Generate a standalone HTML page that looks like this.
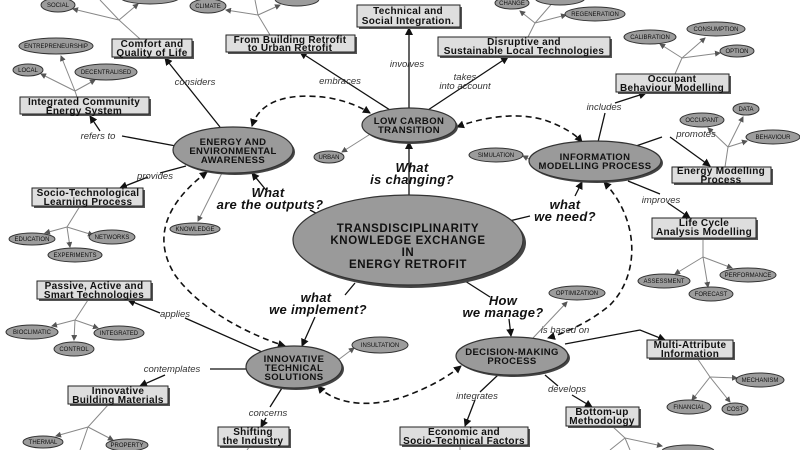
<!DOCTYPE html>
<html><head><meta charset="utf-8"><style>
html,body{margin:0;padding:0;background:#fff;}
svg{display:block;}
.b{fill:#dedede;stroke:#222;stroke-width:1;}
.sh{fill:#555;}
.bt{font:bold 10px "Liberation Sans",sans-serif;fill:#111;text-anchor:middle;letter-spacing:0.3px;}
.se{fill:#9c9c9c;stroke:#333;stroke-width:1;}
.st{font:6px "Liberation Sans",sans-serif;fill:#111;text-anchor:middle;}
.be{fill:#9a9a9a;stroke:#333;stroke-width:1.2;}
.mt{font:bold 9.5px "Liberation Sans",sans-serif;fill:#111;text-anchor:middle;letter-spacing:0.4px;}
.l{stroke:#111;stroke-width:1.3;fill:none;marker-end:url(#a);}
.g{stroke:#888;stroke-width:1;fill:none;marker-end:url(#ga);}
.gn{stroke:#888;stroke-width:1;fill:none;}
.d{stroke:#111;stroke-width:1.6;fill:none;stroke-dasharray:6,4;marker-end:url(#a);marker-start:url(#as);}
.lt{font:italic 9.5px "Liberation Sans",sans-serif;fill:#333;text-anchor:middle;}
.q{font:bold italic 13px "Liberation Sans",sans-serif;fill:#111;text-anchor:middle;letter-spacing:0.3px;}
</style></head><body>
<svg width="800" height="450" viewBox="0 0 800 450" xmlns="http://www.w3.org/2000/svg">
<defs>
<marker id="a" markerWidth="8" markerHeight="8" refX="7" refY="4" orient="auto" markerUnits="userSpaceOnUse"><path d="M0,0 L8,4 L0,8 z" fill="#111"/></marker>
<marker id="as" markerWidth="8" markerHeight="8" refX="1" refY="4" orient="auto" markerUnits="userSpaceOnUse"><path d="M8,0 L0,4 L8,8 z" fill="#111"/></marker>
<marker id="ga" markerWidth="6" markerHeight="6" refX="5" refY="3" orient="auto" markerUnits="userSpaceOnUse"><path d="M0,0 L6,3 L0,6 z" fill="#555"/></marker>
</defs>

<path class="gn" d="M140,39 L119,20 L100,0"/><path class="g" d="M119,20 L73,9"/><path class="g" d="M119,20 L138,4"/>
<path class="gn" d="M270,35 L258,15 L255,0"/><path class="g" d="M258,15 L226,10"/><path class="g" d="M258,15 L280,5"/>
<path class="gn" d="M77,97 L75,91"/><path class="g" d="M75,91 L41,74"/><path class="g" d="M75,91 L61,56"/><path class="g" d="M75,91 L95,80"/>
<path class="gn" d="M528,37 L535,23 L555,0"/><path class="g" d="M535,23 L520,11"/><path class="g" d="M535,23 L566,15"/>
<path class="gn" d="M675,74 L682,58"/><path class="g" d="M682,58 L660,44"/><path class="g" d="M682,58 L705,38"/><path class="g" d="M682,58 L720,53"/>
<path class="gn" d="M725,167 L728,147"/><path class="g" d="M728,147 L708,128"/><path class="g" d="M728,147 L743,117"/><path class="g" d="M728,147 L747,141"/>
<path class="gn" d="M703,238 L703,257"/><path class="g" d="M703,257 L675,274"/><path class="g" d="M703,257 L708,287"/><path class="g" d="M703,257 L732,268"/>
<path class="gn" d="M80,206 L67,227"/><path class="g" d="M67,227 L45,233"/><path class="g" d="M67,227 L93,235"/><path class="g" d="M67,227 L70,247"/>
<path class="gn" d="M88,300 L75,320"/><path class="g" d="M75,320 L52,326"/><path class="g" d="M75,320 L98,328"/><path class="g" d="M75,320 L74,340"/>
<path class="gn" d="M108,405 L88,427 L80,450"/><path class="g" d="M88,427 L56,436"/><path class="g" d="M88,427 L113,440"/>
<path class="gn" d="M697,358 L710,377"/><path class="g" d="M710,377 L737,378"/><path class="g" d="M710,377 L692,400"/><path class="g" d="M710,377 L730,402"/>
<path class="gn" d="M612,426 L625,438 L610,450"/><path class="gn" d="M625,438 L630,450"/><path class="g" d="M625,438 L662,446"/>
<path class="gn" d="M460,445 L460,450"/><path class="gn" d="M250,446 L247,450"/>
<path class="g" d="M222,173 L198,221"/><path class="g" d="M372,133 L342,152"/><path class="g" d="M529,159 L523,156"/>
<path class="g" d="M338,360 L354,348"/><path class="g" d="M533,338 L567,302"/>

<path class="l" d="M220,127 L165,58"/>
<path class="l" d="M176,146 L122,136 M100,131 L90,116"/>
<path class="l" d="M186,166 L160,173 M148,177 L120,188"/>
<path class="l" d="M390,110 L300,52"/>
<path class="l" d="M409,108 L409,28"/>
<path class="l" d="M428,110 L508,57"/>
<path class="l" d="M409,196 L409,142"/>
<path class="l" d="M325,218 L310,210 M266,190 L252,173"/>
<path class="l" d="M505,222 L530,216 M575,196 L582,182"/>
<path class="l" d="M355,283 L345,295 M315,317 L302,346"/>
<path class="l" d="M465,281 L490,297 M509,319 L511,336"/>
<path class="l" d="M598,142 L605,113 M615,103 L646,93"/>
<path class="l" d="M636,146 L662,137 M670,137 L710,166"/>
<path class="l" d="M628,181 L660,194 M668,203 L690,218"/>
<path class="l" d="M262,352 L185,318 M160,313 L128,300"/>
<path class="l" d="M246,369 L210,369 M165,375 L140,386"/>
<path class="l" d="M282,388 L270,407 M266,418 L261,427"/>
<path class="l" d="M565,344 L640,330 L665,340"/>
<path class="l" d="M545,375 L558,386 M572,395 L592,407"/>
<path class="l" d="M498,375 L480,392 M475,400 L465,426"/>

<path class="d" d="M252,126 C260,100 290,92 330,98 C350,102 362,108 370,113"/>
<path class="d" d="M457,127 C480,118 520,110 550,122 C565,128 575,134 582,142"/>
<path class="d" d="M207,172 C170,200 150,235 175,275 C200,310 250,335 285,346"/>
<path class="d" d="M604,182 C640,220 640,275 610,305 C590,322 565,333 548,338"/>
<path class="d" d="M318,386 C330,400 360,410 400,398 C430,388 450,375 461,366"/>

<text class="lt" x="195" y="85">considers</text>
<text class="lt" x="98" y="139">refers to</text>
<text class="lt" x="155" y="179">provides</text>
<text class="lt" x="340" y="84">embraces</text>
<text class="lt" x="407" y="67">involves</text>
<text class="lt" x="465" y="80">takes</text><text class="lt" x="465" y="89">into account</text>
<text class="lt" x="604" y="110">includes</text>
<text class="lt" x="696" y="137">promotes</text>
<text class="lt" x="661" y="203">improves</text>
<text class="lt" x="175" y="317">applies</text>
<text class="lt" x="172" y="372">contemplates</text>
<text class="lt" x="268" y="416">concerns</text>
<text class="lt" x="565" y="333">is based on</text>
<text class="lt" x="567" y="392">develops</text>
<text class="lt" x="477" y="399">integrates</text>

<text class="q" x="268" y="197">What</text><text class="q" x="270" y="209">are the outputs?</text>
<text class="q" x="412" y="172">What</text><text class="q" x="412" y="184">is changing?</text>
<text class="q" x="565" y="209">what</text><text class="q" x="565" y="221">we need?</text>
<text class="q" x="316" y="302">what</text><text class="q" x="318" y="314">we implement?</text>
<text class="q" x="503" y="305">How</text><text class="q" x="503" y="317">we manage?</text>

<ellipse cx="411" cy="243" rx="115" ry="45" fill="#444"/>
<ellipse class="be" cx="408" cy="240" rx="115" ry="45"/>
<text class="mt" style="font-size:11.5px;letter-spacing:0.6px" x="408" y="232">TRANSDISCIPLINARITY</text>
<text class="mt" style="font-size:11.5px;letter-spacing:0.6px" x="408" y="244">KNOWLEDGE EXCHANGE</text>
<text class="mt" style="font-size:11.5px;letter-spacing:0.6px" x="408" y="256">IN</text>
<text class="mt" style="font-size:11.5px;letter-spacing:0.6px" x="408" y="268">ENERGY RETROFIT</text>

<ellipse cx="235" cy="152" rx="60" ry="23" fill="#444"/><ellipse class="be" cx="233" cy="150" rx="60" ry="23"/>
<text class="mt" x="233" y="145">ENERGY AND</text><text class="mt" x="233" y="154">ENVIRONMENTAL</text><text class="mt" x="233" y="163">AWARENESS</text>

<ellipse cx="411" cy="127" rx="47" ry="17" fill="#444"/><ellipse class="be" cx="409" cy="125" rx="47" ry="17"/>
<text class="mt" x="409" y="124">LOW CARBON</text><text class="mt" x="409" y="133">TRANSITION</text>

<ellipse cx="597" cy="163" rx="66" ry="20" fill="#444"/><ellipse class="be" cx="595" cy="161" rx="66" ry="20"/>
<text class="mt" x="595" y="160">INFORMATION</text><text class="mt" x="595" y="169">MODELLING PROCESS</text>

<ellipse cx="296" cy="369" rx="48" ry="21" fill="#444"/><ellipse class="be" cx="294" cy="367" rx="48" ry="21"/>
<text class="mt" x="294" y="362">INNOVATIVE</text><text class="mt" x="294" y="371">TECHNICAL</text><text class="mt" x="294" y="380">SOLUTIONS</text>

<ellipse cx="514" cy="358" rx="56" ry="19" fill="#444"/><ellipse class="be" cx="512" cy="356" rx="56" ry="19"/>
<text class="mt" x="512" y="355">DECISION-MAKING</text><text class="mt" x="512" y="364">PROCESS</text>

<g>
<rect class="sh" x="114" y="41" width="80" height="18"/><rect class="b" x="112" y="39" width="80" height="18"/>
<text class="bt" x="152" y="47">Comfort and</text><text class="bt" x="152" y="56">Quality of Life</text>
<rect class="sh" x="228" y="37" width="129" height="17"/><rect class="b" x="226" y="35" width="129" height="17"/>
<text class="bt" x="290" y="43">From Building Retrofit</text><text class="bt" x="290" y="51">to Urban Retrofit</text>
<rect class="sh" x="359" y="7" width="103" height="22"/><rect class="b" x="357" y="5" width="103" height="22"/>
<text class="bt" x="408" y="14">Technical and</text><text class="bt" x="408" y="24">Social Integration.</text>
<rect class="sh" x="22" y="99" width="129" height="17"/><rect class="b" x="20" y="97" width="129" height="17"/>
<text class="bt" x="84" y="105">Integrated Community</text><text class="bt" x="84" y="114">Energy System</text>
<rect class="sh" x="34" y="190" width="111" height="18"/><rect class="b" x="32" y="188" width="111" height="18"/>
<text class="bt" x="88" y="196">Socio-Technological</text><text class="bt" x="88" y="205">Learning Process</text>
<rect class="sh" x="440" y="39" width="172" height="19"/><rect class="b" x="438" y="37" width="172" height="19"/>
<text class="bt" x="524" y="45">Disruptive and</text><text class="bt" x="524" y="54">Sustainable Local Technologies</text>
<rect class="sh" x="618" y="76" width="113" height="18"/><rect class="b" x="616" y="74" width="113" height="18"/>
<text class="bt" x="672" y="82">Occupant</text><text class="bt" x="672" y="91">Behaviour Modelling</text>
<rect class="sh" x="674" y="169" width="99" height="16"/><rect class="b" x="672" y="167" width="99" height="16"/>
<text class="bt" x="721" y="174">Energy Modelling</text><text class="bt" x="721" y="183">Process</text>
<rect class="sh" x="654" y="220" width="104" height="20"/><rect class="b" x="652" y="218" width="104" height="20"/>
<text class="bt" x="704" y="226">Life Cycle</text><text class="bt" x="704" y="235">Analysis Modelling</text>
<rect class="sh" x="39" y="283" width="114" height="18"/><rect class="b" x="37" y="281" width="114" height="18"/>
<text class="bt" x="94" y="289">Passive, Active and</text><text class="bt" x="94" y="298">Smart Technologies</text>
<rect class="sh" x="70" y="388" width="100" height="18"/><rect class="b" x="68" y="386" width="100" height="18"/>
<text class="bt" x="118" y="394">Innovative</text><text class="bt" x="118" y="403">Building Materials</text>
<rect class="sh" x="220" y="429" width="71" height="19"/><rect class="b" x="218" y="427" width="71" height="19"/>
<text class="bt" x="253" y="435">Shifting</text><text class="bt" x="253" y="444">the Industry</text>
<rect class="sh" x="649" y="342" width="86" height="18"/><rect class="b" x="647" y="340" width="86" height="18"/>
<text class="bt" x="690" y="348">Multi-Attribute</text><text class="bt" x="690" y="357">Information</text>
<rect class="sh" x="568" y="409" width="73" height="19"/><rect class="b" x="566" y="407" width="73" height="19"/>
<text class="bt" x="602" y="415">Bottom-up</text><text class="bt" x="602" y="424">Methodology</text>
<rect class="sh" x="402" y="429" width="128" height="18"/><rect class="b" x="400" y="427" width="128" height="18"/>
<text class="bt" x="464" y="435">Economic and</text><text class="bt" x="464" y="444">Socio-Technical Factors</text>
</g>

<g>
<ellipse class="se" cx="150" cy="-3" rx="30" ry="7"/>
<ellipse class="se" cx="297" cy="-1" rx="22" ry="7"/>
<ellipse class="se" cx="560" cy="-2" rx="25" ry="7"/>
<ellipse class="se" cx="58" cy="5" rx="17" ry="7"/><text class="st" x="58" y="7">SOCIAL</text>
<ellipse class="se" cx="208" cy="6" rx="18" ry="7"/><text class="st" x="208" y="8">CLIMATE</text>
<ellipse class="se" cx="56" cy="46" rx="37" ry="8"/><text class="st" x="56" y="48">ENTREPRENEURSHIP</text>
<ellipse class="se" cx="28" cy="70" rx="15" ry="6"/><text class="st" x="28" y="72">LOCAL</text>
<ellipse class="se" cx="106" cy="72" rx="31" ry="8"/><text class="st" x="106" y="74">DECENTRALISED</text>
<ellipse class="se" cx="329" cy="157" rx="15" ry="6"/><text class="st" x="329" y="159">URBAN</text>
<ellipse class="se" cx="195" cy="229" rx="25" ry="6"/><text class="st" x="195" y="231">KNOWLEDGE</text>
<ellipse class="se" cx="512" cy="3" rx="17" ry="6"/><text class="st" x="512" y="5">CHANGE</text>
<ellipse class="se" cx="595" cy="14" rx="30" ry="7"/><text class="st" x="595" y="16">REGENERATION</text>
<ellipse class="se" cx="650" cy="37" rx="26" ry="7"/><text class="st" x="650" y="39">CALIBRATION</text>
<ellipse class="se" cx="716" cy="29" rx="29" ry="7"/><text class="st" x="716" y="31">CONSUMPTION</text>
<ellipse class="se" cx="737" cy="51" rx="17" ry="6"/><text class="st" x="737" y="53">OPTION</text>
<ellipse class="se" cx="702" cy="120" rx="22" ry="7"/><text class="st" x="702" y="122">OCCUPANT</text>
<ellipse class="se" cx="746" cy="109" rx="13" ry="6"/><text class="st" x="746" y="111">DATA</text>
<ellipse class="se" cx="773" cy="137" rx="27" ry="7"/><text class="st" x="773" y="139">BEHAVIOUR</text>
<ellipse class="se" cx="496" cy="155" rx="27" ry="7"/><text class="st" x="496" y="157">SIMULATION</text>
<ellipse class="se" cx="32" cy="239" rx="23" ry="6"/><text class="st" x="32" y="241">EDUCATION</text>
<ellipse class="se" cx="112" cy="237" rx="23" ry="7"/><text class="st" x="112" y="239">NETWORKS</text>
<ellipse class="se" cx="75" cy="255" rx="27" ry="7"/><text class="st" x="75" y="257">EXPERIMENTS</text>
<ellipse class="se" cx="32" cy="332" rx="26" ry="7"/><text class="st" x="32" y="334">BIOCLIMATIC</text>
<ellipse class="se" cx="119" cy="333" rx="25" ry="7"/><text class="st" x="119" y="335">INTEGRATED</text>
<ellipse class="se" cx="74" cy="349" rx="20" ry="7"/><text class="st" x="74" y="351">CONTROL</text>
<ellipse class="se" cx="380" cy="345" rx="28" ry="8"/><text class="st" x="380" y="347">INSULTATION</text>
<ellipse class="se" cx="43" cy="442" rx="20" ry="6"/><text class="st" x="43" y="444">THERMAL</text>
<ellipse class="se" cx="127" cy="445" rx="21" ry="6"/><text class="st" x="127" y="447">PROPERTY</text>
<ellipse class="se" cx="577" cy="293" rx="28" ry="7"/><text class="st" x="577" y="295">OPTIMIZATION</text>
<ellipse class="se" cx="664" cy="281" rx="26" ry="7"/><text class="st" x="664" y="283">ASSESSMENT</text>
<ellipse class="se" cx="748" cy="275" rx="28" ry="7"/><text class="st" x="748" y="277">PERFORMANCE</text>
<ellipse class="se" cx="711" cy="294" rx="22" ry="7"/><text class="st" x="711" y="296">FORECAST</text>
<ellipse class="se" cx="760" cy="380" rx="24" ry="7"/><text class="st" x="760" y="382">MECHANISM</text>
<ellipse class="se" cx="689" cy="407" rx="22" ry="7"/><text class="st" x="689" y="409">FINANCIAL</text>
<ellipse class="se" cx="735" cy="409" rx="13" ry="6"/><text class="st" x="735" y="411">COST</text>
<ellipse class="se" cx="688" cy="451" rx="26" ry="6"/>
</g>
</svg>
</body></html>
